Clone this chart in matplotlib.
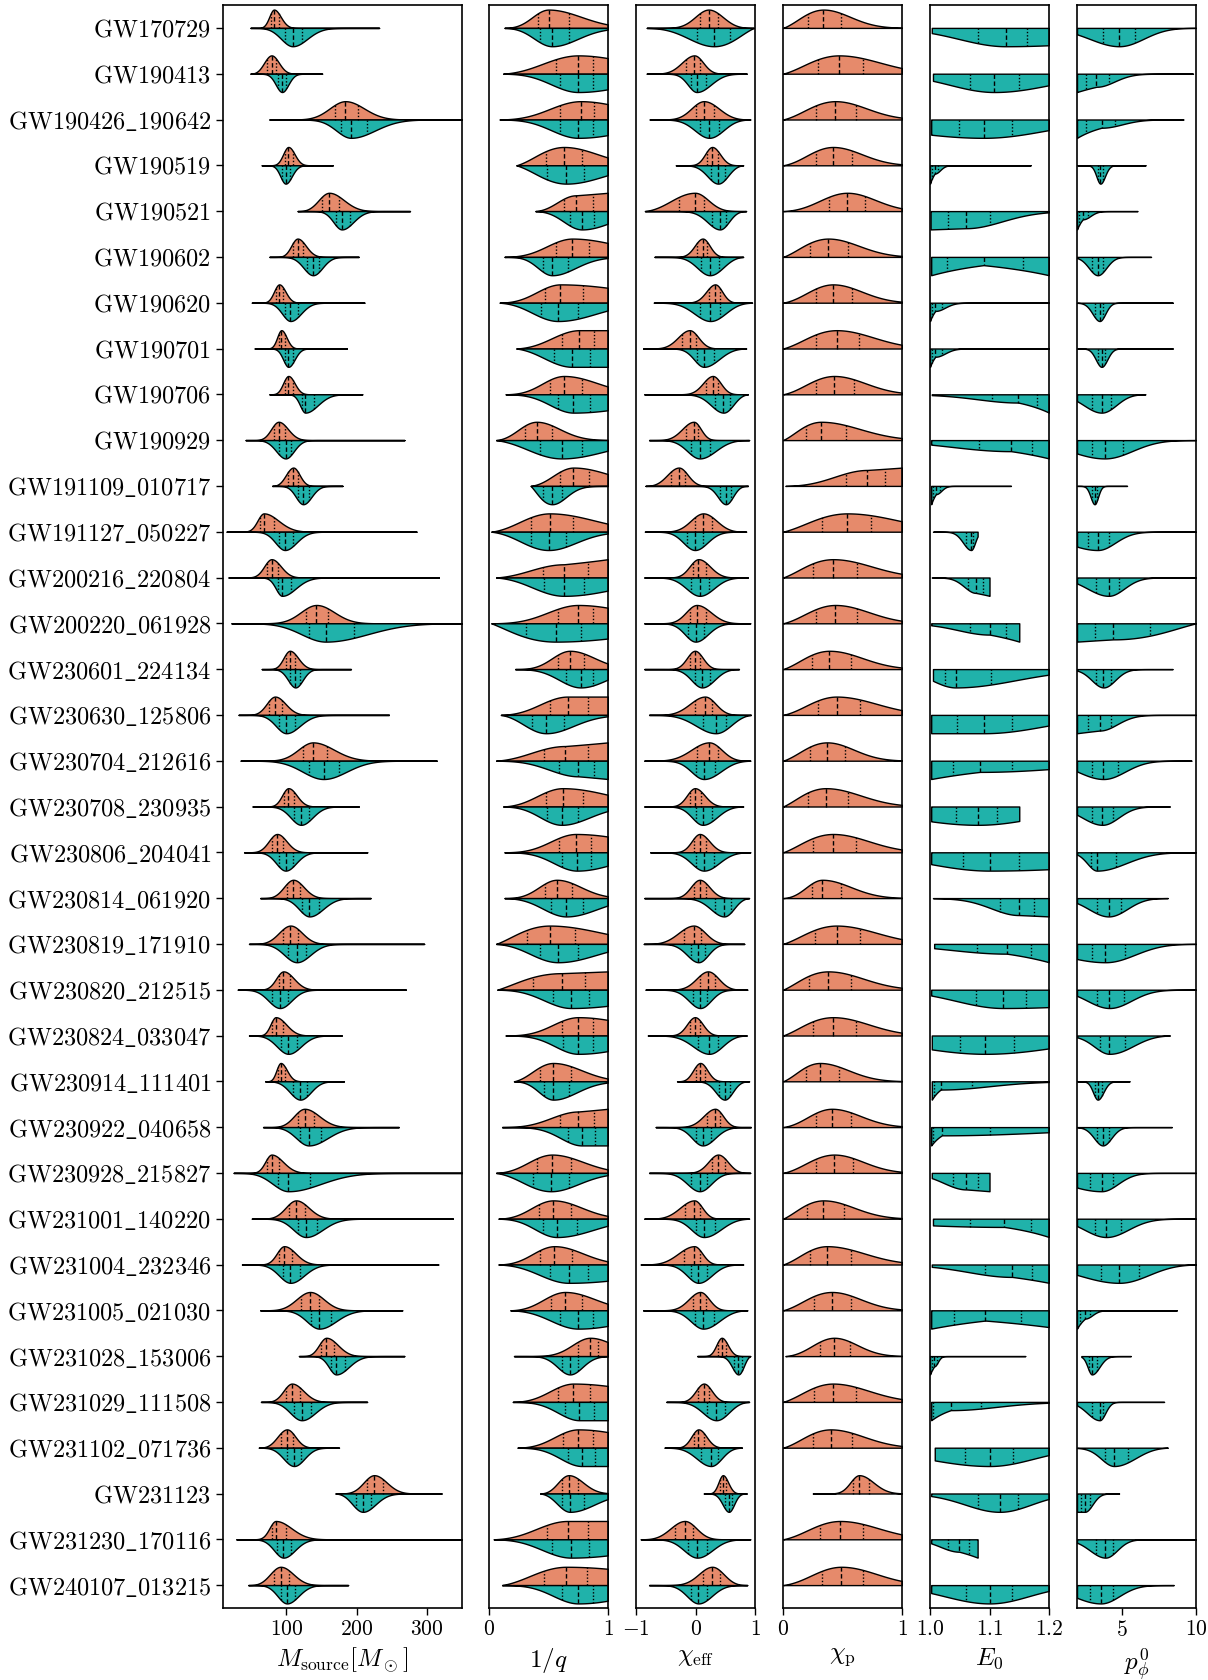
"""Split violins of the source mass, spins and eccentricity parameters per event."""

from math import erf, exp, sqrt

import matplotlib
import numpy as np

matplotlib.use("Agg")
import matplotlib.pyplot as plt

EVENTS = [
    "GW170729", "GW190413", "GW190426_190642", "GW190519", "GW190521", "GW190602",
    "GW190620", "GW190701", "GW190706", "GW190929", "GW191109_010717", "GW191127_050227",
    "GW200216_220804", "GW200220_061928", "GW230601_224134", "GW230630_125806",
    "GW230704_212616", "GW230708_230935", "GW230806_204041", "GW230814_061920",
    "GW230819_171910", "GW230820_212515", "GW230824_033047", "GW230914_111401",
    "GW230922_040658", "GW230928_215827", "GW231001_140220", "GW231004_232346",
    "GW231005_021030", "GW231028_153006", "GW231029_111508", "GW231102_071736",
    "GW231123", "GW231230_170116", "GW240107_013215",
]

# extent of each violin (min, max) and quartiles (25%, 50%, 75%)
# QC = quasi-circular run (orange), ECC = eccentric run (teal)
MASS_EXTENT = [(49, 232), (49, 151), (76, 360), (65, 166), (116, 276), (76, 203), (51, 211),
               (55, 186), (76, 208), (42, 268), (80, 180), (15, 285), (18, 317), (22, 360),
               (65, 192), (32, 246), (35, 314), (52, 203), (40, 215), (63, 220), (47, 296),
               (31, 270), (47, 179), (70, 182), (67, 260), (25, 360), (51, 337), (37, 316),
               (63, 265), (118, 268), (64, 215), (61, 175), (170, 321), (29, 360), (46, 188)]
MASS_QC = [(78, 82.5, 89), (72, 79, 86), (169, 184, 202), (98, 103, 109), (151, 161, 175),
           (110, 116, 124), (85, 90, 96), (89, 93, 98), (98, 103, 109), (82, 89, 98),
           (103, 110, 116), (62, 68, 82), (72, 79, 88), (128, 143, 160), (99, 105, 113),
           (76, 84, 94), (124, 138, 158), (97, 103, 111), (79, 87, 96), (101, 110, 120),
           (95, 106, 117), (89, 96, 106), (80, 85, 95), (88, 92, 98), (116, 126, 140),
           (73, 79, 90), (104, 114, 126), (90, 97, 108), (121, 134, 147), (150, 157, 168),
           (100, 108, 119), (92, 101, 109), (215, 225, 237), (79, 85, 100), (82, 92, 104)]
MASS_ECC = [(98, 109, 123), (88, 94, 100), (178, 192, 215), (94, 99, 105), (171, 179, 190),
            (129, 138, 147), (98, 106, 116), (98, 103, 109), (122, 127, 139), (90, 99, 107),
            (117, 124, 132), (89, 98, 109), (88, 94, 107), (133, 156, 196), (106, 113, 120),
            (90, 100, 113), (133, 153, 175), (111, 121, 132), (90, 99, 109), (123, 133, 146),
            (103, 115, 128), (80, 91, 102), (92, 103, 115), (110, 120, 130), (120, 132, 150),
            (88, 103, 134), (116, 128, 144), (95, 106, 119), (135, 147, 163), (164, 171, 183),
            (111, 122, 135), (101, 111, 121), (199, 209, 221), (87, 96, 107), (92, 101, 112)]

Q_LOW = [0.13, 0.12, 0.09, 0.23, 0.39, 0.13, 0.09, 0.23, 0.14, 0.06, 0.35, 0.02, 0.06, 0.02,
         0.22, 0.10, 0.06, 0.12, 0.13, 0.13, 0.06, 0.07, 0.14, 0.21, 0.11, 0.06, 0.08, 0.08,
         0.18, 0.21, 0.20, 0.24, 0.43, 0.04, 0.11]
Q_QC = [(0.41, 0.50, 0.67), (0.56, 0.75, 0.87), (0.60, 0.77, 0.88), (0.48, 0.63, 0.78),
        (0.63, 0.73, 0.87), (0.56, 0.70, 0.84), (0.47, 0.60, 0.79), (0.61, 0.76, 0.88),
        (0.51, 0.63, 0.78), (0.30, 0.40, 0.53), (0.60, 0.71, 0.84), (0.35, 0.51, 0.71),
        (0.45, 0.63, 0.83), (0.58, 0.75, 0.87), (0.58, 0.68, 0.80), (0.51, 0.66, 0.83),
        (0.46, 0.64, 0.83), (0.48, 0.62, 0.79), (0.59, 0.73, 0.86), (0.47, 0.57, 0.70),
        (0.32, 0.51, 0.72), (0.37, 0.61, 0.81), (0.61, 0.75, 0.87), (0.43, 0.54, 0.69),
        (0.60, 0.75, 0.88), (0.40, 0.53, 0.69), (0.42, 0.54, 0.69), (0.43, 0.55, 0.70),
        (0.52, 0.64, 0.78), (0.75, 0.85, 0.92), (0.58, 0.71, 0.85), (0.62, 0.75, 0.87),
        (0.61, 0.67, 0.75), (0.49, 0.66, 0.83), (0.46, 0.65, 0.82)]
Q_ECC = [(0.43, 0.53, 0.67), (0.60, 0.75, 0.87), (0.60, 0.75, 0.87), (0.49, 0.65, 0.80),
         (0.68, 0.78, 0.88), (0.45, 0.53, 0.66), (0.44, 0.58, 0.75), (0.55, 0.70, 0.85),
         (0.58, 0.71, 0.85), (0.43, 0.61, 0.78), (0.45, 0.53, 0.61), (0.35, 0.50, 0.65),
         (0.46, 0.63, 0.80), (0.31, 0.56, 0.77), (0.65, 0.77, 0.87), (0.36, 0.48, 0.63),
         (0.59, 0.75, 0.88), (0.49, 0.61, 0.75), (0.61, 0.74, 0.86), (0.52, 0.65, 0.79),
         (0.43, 0.58, 0.75), (0.54, 0.69, 0.84), (0.62, 0.75, 0.87), (0.46, 0.54, 0.67),
         (0.66, 0.78, 0.89), (0.37, 0.52, 0.67), (0.45, 0.57, 0.74), (0.51, 0.67, 0.83),
         (0.60, 0.75, 0.87), (0.61, 0.68, 0.75), (0.64, 0.76, 0.88), (0.66, 0.78, 0.89),
         (0.61, 0.68, 0.80), (0.53, 0.69, 0.84), (0.61, 0.75, 0.87)]

CHIEFF_EXTENT = [(-0.82, 0.98), (-0.82, 0.86), (-0.77, 0.92), (-0.33, 0.80), (-0.85, 0.85),
                 (-0.69, 0.80), (-0.70, 0.95), (-0.88, 0.85), (-0.86, 0.88), (-0.78, 0.90),
                 (-0.84, 0.88), (-0.85, 0.85), (-0.86, 0.88), (-0.86, 0.92), (-0.86, 0.73),
                 (-0.78, 0.93), (-0.86, 0.92), (-0.86, 0.80), (-0.76, 0.92), (-0.86, 0.90),
                 (-0.87, 0.82), (-0.84, 0.87), (-0.80, 0.86), (-0.31, 0.90), (-0.67, 0.93),
                 (-0.78, 0.92), (-0.86, 0.90), (-0.92, 0.80), (-0.88, 0.87), (0.03, 0.92),
                 (-0.49, 0.90), (-0.52, 0.78), (0.14, 0.86), (-0.92, 0.92), (-0.78, 0.87)]
CHIEFF_QC = [(0.07, 0.22, 0.38), (-0.16, -0.02, 0.08), (0.00, 0.14, 0.31), (0.20, 0.28, 0.37),
             (-0.27, -0.01, 0.14), (0.03, 0.12, 0.20), (0.23, 0.33, 0.41), (-0.23, -0.10, 0.00),
             (0.18, 0.29, 0.38), (-0.16, -0.03, 0.05), (-0.41, -0.28, -0.18), (-0.01, 0.13, 0.28),
             (-0.05, 0.05, 0.18), (-0.10, 0.02, 0.18), (-0.10, -0.01, 0.08), (-0.01, 0.16, 0.28),
             (0.03, 0.23, 0.37), (-0.10, -0.01, 0.10), (-0.02, 0.07, 0.18), (-0.03, 0.07, 0.18),
             (-0.20, -0.03, 0.10), (0.08, 0.21, 0.33), (-0.10, -0.01, 0.08), (0.00, 0.08, 0.16),
             (0.20, 0.33, 0.42), (0.27, 0.38, 0.49), (-0.18, -0.02, 0.07), (-0.20, -0.02, 0.07),
             (-0.05, 0.08, 0.18), (0.38, 0.44, 0.51), (0.05, 0.14, 0.23), (-0.03, 0.05, 0.14),
             (0.41, 0.46, 0.52), (-0.34, -0.18, -0.05), (0.13, 0.28, 0.41)]
CHIEFF_ECC = [(0.03, 0.31, 0.58), (-0.08, 0.02, 0.18), (0.07, 0.23, 0.39), (0.26, 0.38, 0.49),
              (0.27, 0.41, 0.51), (0.10, 0.24, 0.39), (0.07, 0.25, 0.42), (0.03, 0.14, 0.31),
              (0.33, 0.47, 0.58), (-0.07, 0.07, 0.25), (0.42, 0.51, 0.59), (-0.14, -0.01, 0.13),
              (-0.08, 0.07, 0.23), (-0.12, 0.00, 0.14), (-0.01, 0.11, 0.25), (0.12, 0.34, 0.51),
              (0.00, 0.14, 0.33), (0.00, 0.12, 0.28), (0.00, 0.14, 0.31), (0.33, 0.48, 0.59),
              (-0.08, 0.05, 0.16), (-0.05, 0.08, 0.20), (0.05, 0.23, 0.38), (0.39, 0.49, 0.58),
              (0.00, 0.12, 0.26), (-0.07, 0.07, 0.20), (0.00, 0.14, 0.33), (-0.08, 0.05, 0.20),
              (-0.01, 0.13, 0.31), (0.65, 0.72, 0.78), (0.20, 0.35, 0.49), (0.10, 0.26, 0.38),
              (0.49, 0.56, 0.62), (-0.12, 0.03, 0.20), (-0.08, 0.05, 0.20)]

CHIP_LOW = [0.0] * 10 + [0.02] + [0.0] * 18 + [0.02, 0.0, 0.0, 0.25, 0.0, 0.0]
CHIP_QC = [(0.21, 0.34, 0.49), (0.29, 0.47, 0.67), (0.28, 0.44, 0.61), (0.28, 0.42, 0.58),
           (0.39, 0.54, 0.69), (0.23, 0.38, 0.55), (0.28, 0.42, 0.58), (0.28, 0.45, 0.64),
           (0.28, 0.43, 0.60), (0.19, 0.32, 0.53), (0.53, 0.71, 0.86), (0.33, 0.54, 0.74),
           (0.25, 0.42, 0.62), (0.28, 0.44, 0.62), (0.24, 0.39, 0.57), (0.29, 0.45, 0.65),
           (0.23, 0.37, 0.52), (0.21, 0.36, 0.55), (0.25, 0.42, 0.61), (0.24, 0.33, 0.49),
           (0.27, 0.45, 0.65), (0.22, 0.38, 0.57), (0.25, 0.42, 0.61), (0.19, 0.31, 0.47),
           (0.28, 0.41, 0.57), (0.28, 0.43, 0.59), (0.20, 0.34, 0.51), (0.23, 0.37, 0.57),
           (0.26, 0.41, 0.57), (0.31, 0.43, 0.56), (0.26, 0.42, 0.61), (0.25, 0.40, 0.58),
           (0.59, 0.64, 0.72), (0.31, 0.48, 0.67), (0.33, 0.49, 0.67)]

E0_EXTENT = [(1.003, 1.2), (1.005, 1.2), (1.002, 1.2), (1.0, 1.169), (1.001, 1.2), (1.002, 1.2),
             (1.0, 1.2), (1.0, 1.2), (1.003, 1.2), (1.002, 1.2), (1.002, 1.136), (1.005, 1.08),
             (1.003, 1.10), (1.002, 1.15), (1.005, 1.2), (1.002, 1.2), (1.002, 1.2),
             (1.002, 1.15), (1.002, 1.2), (1.005, 1.2), (1.007, 1.2), (1.002, 1.2),
             (1.003, 1.2), (1.003, 1.2), (1.002, 1.2), (1.003, 1.10), (1.005, 1.2),
             (1.003, 1.2), (1.002, 1.2), (1.0, 1.16), (1.002, 1.2), (1.008, 1.2), (1.002, 1.2),
             (1.002, 1.08), (1.002, 1.2)]
E0_ECC = [(1.081, 1.127, 1.163), (1.067, 1.108, 1.149), (1.048, 1.090, 1.138),
          (1.003, 1.008, 1.014), (1.030, 1.060, 1.100), (1.028, 1.090, 1.157),
          (1.003, 1.009, 1.020), (1.003, 1.009, 1.020), (1.104, 1.148, 1.180),
          (1.082, 1.136, 1.172), (1.005, 1.010, 1.016), (1.060, 1.069, 1.073),
          (1.064, 1.077, 1.089), (1.067, 1.100, 1.128), (1.026, 1.043, 1.102),
          (1.046, 1.090, 1.138), (1.038, 1.084, 1.138), (1.043, 1.080, 1.113),
          (1.056, 1.100, 1.149), (1.118, 1.149, 1.175), (1.079, 1.129, 1.170),
          (1.077, 1.123, 1.161), (1.051, 1.093, 1.142), (1.007, 1.018, 1.071),
          (1.005, 1.020, 1.100), (1.039, 1.061, 1.081), (1.068, 1.125, 1.170),
          (1.092, 1.138, 1.172), (1.041, 1.093, 1.153), (1.003, 1.007, 1.011),
          (1.005, 1.035, 1.085), (1.058, 1.100, 1.140), (1.080, 1.117, 1.148),
          (1.031, 1.049, 1.066), (1.060, 1.100, 1.138)]

PPHI_EXTENT = [(2, 10), (2, 9.8), (2, 9.16), (2, 6.6), (2, 6.07), (2, 6.98), (2, 8.43), (2, 8.43),
               (2, 6.6), (2, 10), (2, 5.36), (2, 10), (2, 10), (2, 10), (2, 8.43), (2, 10),
               (2, 9.7), (2, 8.24), (2, 10), (2, 8.1), (2, 10), (2, 10), (2, 8.24), (2, 5.54),
               (2, 8.37), (2, 10), (2, 10), (2, 10), (2, 8.71), (2.29, 5.62), (2, 7.85),
               (2, 8.1), (2, 4.83), (2, 10), (2, 8.5)]
PPHI_ECC = [(3.73, 4.83, 5.93), (2.60, 3.31, 4.12), (2.60, 3.65, 4.57), (3.39, 3.57, 3.78),
            (2.13, 2.39, 2.73), (3.00, 3.39, 3.78), (3.20, 3.52, 3.78), (3.39, 3.65, 3.91),
            (3.00, 3.65, 4.31), (3.00, 3.86, 5.10), (3.00, 3.18, 3.34), (2.73, 3.39, 4.18),
            (3.31, 4.12, 4.83), (3.18, 4.44, 6.93), (3.26, 3.78, 4.31), (2.73, 3.52, 4.31),
            (3.00, 3.78, 4.75), (3.00, 3.70, 4.44), (2.92, 3.34, 4.65), (3.34, 4.12, 4.96),
            (3.00, 3.91, 5.23), (3.34, 4.18, 5.17), (3.52, 4.18, 5.23), (3.18, 3.39, 3.65),
            (3.34, 3.73, 4.12), (2.87, 3.65, 4.39), (3.18, 3.97, 4.96), (3.60, 4.83, 6.14),
            (2.21, 2.55, 2.87), (2.81, 3.00, 3.34), (3.00, 3.52, 3.78), (3.91, 4.49, 5.44),
            (2.26, 2.52, 2.87), (3.26, 3.91, 4.44), (2.87, 3.60, 4.44)]

ORANGE = "#E68A6B"
TEAL = "#20B2AA"
HALF = 0.4

plt.rcParams.update({
    "mathtext.fontset": "cm",
    "font.family": "serif",
    "font.serif": ["cmr10", "DejaVu Serif"],
    "axes.unicode_minus": False,
    "axes.linewidth": 1.2,
})


def _phi(z):
    return 0.5 * (1.0 + erf(z / sqrt(2.0)))


def _bisect(f, lo, hi, logscale=False):
    # f is decreasing; find its zero
    for _ in range(80):
        mid = sqrt(lo * hi) if logscale else 0.5 * (lo + hi)
        if f(mid) > 0:
            lo = mid
        else:
            hi = mid
    return sqrt(lo * hi) if logscale else 0.5 * (lo + hi)


def side_profile(t, a, b, hard):
    """Density on one side of the median; t = distance from the median,
    a = distance to the quartile, b = distance to the end of the violin."""
    a = max(a, 1e-9)
    if b <= 0:
        return np.exp(-0.5 * (t / (a / 0.6745)) ** 2)
    if not hard:
        # free tail: gaussian that fades out at the last sample
        taper = np.clip(1 - (t / b) ** 4, 0, 1)
        return np.exp(-0.5 * (t / (a / 0.6745)) ** 2) * taper
    r = a / b
    if r < 0.5:
        s = _bisect(lambda s: (0.5 - _phi(-a / s)) / (0.5 - _phi(-b / s)) - 0.5,
                    a * 1e-3, b * 100.0, logscale=True)
        return np.exp(-0.5 * (t / s) ** 2)
    # more weight near the prior bound than a flat profile: density rises towards it
    u = _bisect(lambda u: (exp(u * r) - 1) / (exp(u) - 1) - 0.5, 1e-6, 12.0)
    return np.exp(min(u, 0.8) * t / b)


def half_shape(lo, hi, q, hard, n=700):
    x = np.linspace(lo, hi, n)
    q1, q2, q3 = q
    left = side_profile(np.clip(q2 - x, 0, None), q2 - q1, q2 - lo, hard[0])
    right = side_profile(np.clip(x - q2, 0, None), q3 - q2, hi - q2, hard[1])
    d = np.where(x < q2, left, right)
    return x, d / d.max()


def draw_half(ax, row, lo, hi, q, hard, color, sign):
    x, d = half_shape(lo, hi, q, hard)
    ax.fill_between(x, row, row + sign * HALF * d, facecolor=color, edgecolor="black",
                    linewidth=1.0, zorder=2)
    for k, qv in enumerate(q):
        h = np.interp(qv, x, d) * HALF
        style = (0, (3.2, 1.8)) if k == 1 else (0, (1.0, 1.4))
        ax.plot([qv, qv], [row, row + sign * h], color="black", lw=1.0, ls=style, zorder=3)


def draw_panel(ax, extents, qc, ecc, hard):
    for row in range(len(EVENTS)):
        lo, hi = extents[row]
        if qc is not None:
            draw_half(ax, row, lo, hi, qc[row], hard, ORANGE, -1)
        if ecc is not None:
            draw_half(ax, row, lo, hi, ecc[row], hard, TEAL, +1)


W, H = 1208, 1680
fig = plt.figure(figsize=(W / 100, H / 100), dpi=100)
bottom, top = 1608, 5
lefts = [223, 489, 636, 783, 930, 1077]
widths = [239, 119, 119, 119, 119, 119]

# (extent, orange, teal, hard prior edges (left, right), xlim, ticks, tick labels, label)
panels = [
    (MASS_EXTENT, MASS_QC, MASS_ECC, (False, False), (10, 350), [100, 200, 300],
     ["100", "200", "300"], r"$M_{\rm source}[M_\odot]$"),
    ([(lo, 1.0) for lo in Q_LOW], Q_QC, Q_ECC, (False, True), (0, 1), [0, 1], ["0", "1"],
     r"$1/q$"),
    (CHIEFF_EXTENT, CHIEFF_QC, CHIEFF_ECC, (False, False), (-1, 1), [-1, 0, 1],
     ["-1", "0", "1"], r"$\chi_{\rm eff}$"),
    ([(lo, 1.0) for lo in CHIP_LOW], CHIP_QC, None, (False, True), (0, 1), [0, 1], ["0", "1"],
     r"$\chi_{\rm p}$"),
    (E0_EXTENT, None, E0_ECC, (True, True), (1.0, 1.2), [1.0, 1.1, 1.2], ["1.0", "1.1", "1.2"],
     r"$E_0$"),
    (PPHI_EXTENT, None, PPHI_ECC, (True, False), (2, 10), [5, 10], ["5", "10"], r"$p_\phi^0$"),
]

for i, (ext, qc, ecc, hard, xlim, ticks, tlabels, xlabel) in enumerate(panels):
    ax = fig.add_axes([lefts[i] / W, 1 - bottom / H, widths[i] / W, (bottom - top) / H])
    draw_panel(ax, ext, qc, ecc, hard)
    ax.set_xlim(*xlim)
    ax.set_ylim(len(EVENTS) - 0.5, -0.5)
    ax.set_xticks(ticks)
    ax.set_xticklabels([f"${t}$" for t in tlabels])
    ax.set_xlabel(xlabel, fontsize=18, labelpad=5)
    ax.tick_params(axis="both", direction="out", length=5, width=1.0, labelsize=15.5)
    if i == 0:
        ax.set_yticks(range(len(EVENTS)))
        ax.set_yticklabels([r"$\mathrm{" + e.replace("_", r"\_") + "}$" for e in EVENTS],
                           fontsize=17.5)
    else:
        ax.set_yticks([])

fig.savefig("out.png", dpi=100)
